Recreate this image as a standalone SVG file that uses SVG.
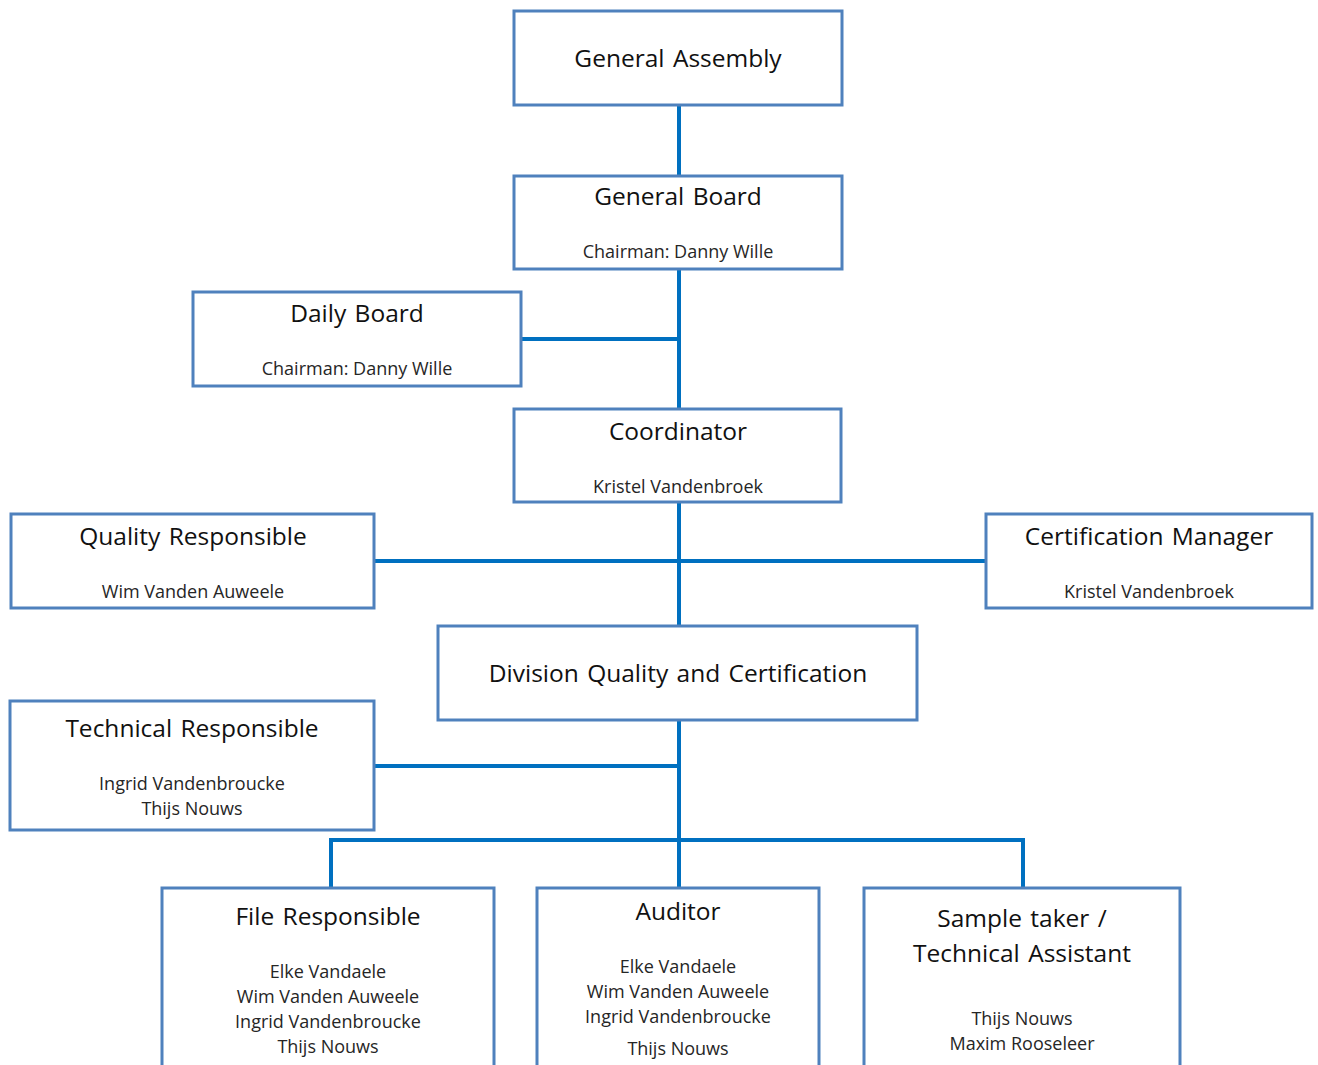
<svg xmlns="http://www.w3.org/2000/svg" width="1318" height="1065" viewBox="0 0 1318 1065">
<style>
.box{fill:#fff;stroke:#4F81BD;stroke-width:3}
.t{font-family:"Open Sans","Liberation Sans",Arial,sans-serif;font-size:24.5px;word-spacing:2px;fill:#111;text-anchor:middle}
.s{font-family:"Open Sans","Liberation Sans",Arial,sans-serif;font-size:18px;fill:#262626;text-anchor:middle}
.c{stroke:#0070C0;stroke-width:4;fill:none}
</style>
<rect width="1318" height="1065" fill="#fff"/>
<g id="connectors">
<line class="c" x1="679" y1="105" x2="679" y2="176"/>
<line class="c" x1="679" y1="269" x2="679" y2="409"/>
<line class="c" x1="521" y1="339" x2="679" y2="339"/>
<line class="c" x1="679" y1="502" x2="679" y2="626"/>
<line class="c" x1="374" y1="561" x2="986" y2="561"/>
<line class="c" x1="679" y1="720" x2="679" y2="888"/>
<line class="c" x1="374" y1="766" x2="679" y2="766"/>
<polyline class="c" points="331,888 331,840 1023,840 1023,888"/>
</g>
<g id="general-assembly">
<rect class="box" x="514" y="11" width="328" height="94"/>
<text class="t" x="678" y="67">General Assembly</text>
</g>
<g id="general-board">
<rect class="box" x="514" y="176" width="328" height="93"/>
<text class="t" x="678" y="205">General Board</text>
<text class="s" x="678" y="258">Chairman: Danny Wille</text>
</g>
<g id="daily-board">
<rect class="box" x="193" y="292" width="328" height="94"/>
<text class="t" x="357" y="322">Daily Board</text>
<text class="s" x="357" y="375">Chairman: Danny Wille</text>
</g>
<g id="coordinator">
<rect class="box" x="514" y="409" width="327" height="93"/>
<text class="t" x="678" y="440">Coordinator</text>
<text class="s" x="678" y="493">Kristel Vandenbroek</text>
</g>
<g id="quality-responsible">
<rect class="box" x="11" y="514" width="363" height="94"/>
<text class="t" x="193" y="545">Quality Responsible</text>
<text class="s" x="193" y="598">Wim Vanden Auweele</text>
</g>
<g id="certification-manager">
<rect class="box" x="986" y="514" width="326" height="94"/>
<text class="t" x="1149" y="545">Certification Manager</text>
<text class="s" x="1149" y="598">Kristel Vandenbroek</text>
</g>
<g id="division">
<rect class="box" x="438" y="626" width="479" height="94"/>
<text class="t" x="678" y="682">Division Quality and Certification</text>
</g>
<g id="technical-responsible">
<rect class="box" x="10" y="701" width="364" height="129"/>
<text class="t" x="192" y="737">Technical Responsible</text>
<text class="s" x="192" y="790">Ingrid Vandenbroucke</text>
<text class="s" x="192" y="815">Thijs Nouws</text>
</g>
<g id="file-responsible">
<rect class="box" x="162" y="888" width="332" height="190"/>
<text class="t" x="328" y="925">File Responsible</text>
<text class="s" x="328" y="978">Elke Vandaele</text>
<text class="s" x="328" y="1003">Wim Vanden Auweele</text>
<text class="s" x="328" y="1028">Ingrid Vandenbroucke</text>
<text class="s" x="328" y="1053">Thijs Nouws</text>
</g>
<g id="auditor">
<rect class="box" x="537" y="888" width="282" height="190"/>
<text class="t" x="678" y="920">Auditor</text>
<text class="s" x="678" y="973">Elke Vandaele</text>
<text class="s" x="678" y="998">Wim Vanden Auweele</text>
<text class="s" x="678" y="1023">Ingrid Vandenbroucke</text>
<text class="s" x="678" y="1055">Thijs Nouws</text>
</g>
<g id="sample-taker">
<rect class="box" x="864" y="888" width="316" height="190"/>
<text class="t" x="1022" y="927">Sample taker /</text>
<text class="t" x="1022" y="962">Technical Assistant</text>
<text class="s" x="1022" y="1025">Thijs Nouws</text>
<text class="s" x="1022" y="1050">Maxim Rooseleer</text>
</g>
</svg>
